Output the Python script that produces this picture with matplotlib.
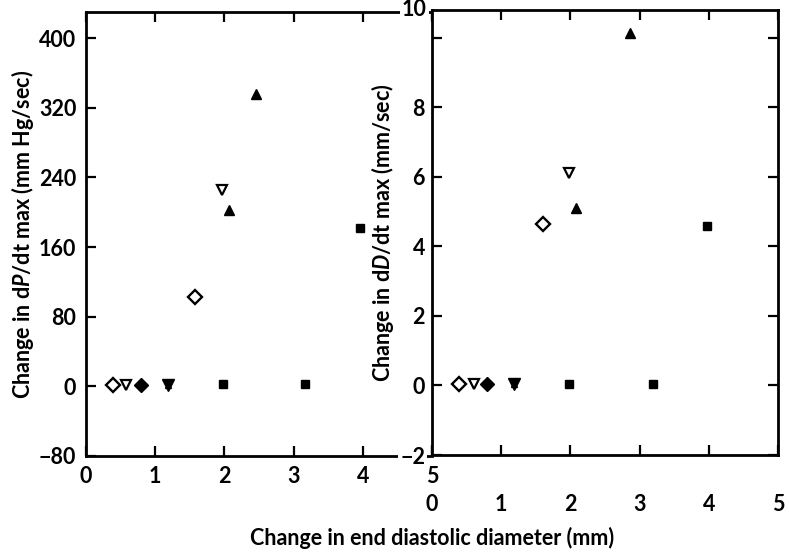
import matplotlib
matplotlib.use("Agg")
import matplotlib.pyplot as plt

plt.rcParams['font.family'] = ['Lato', 'DejaVu Sans']
plt.rcParams['font.weight'] = 'bold'
plt.rcParams['mathtext.fontset'] = 'custom'
plt.rcParams['mathtext.it'] = 'Lato:italic:bold'
plt.rcParams['mathtext.rm'] = 'Lato:bold'

# ---- data: left panel (dP/dt max, mm Hg/sec) ----
p_open_diamond_x = [0.39, 1.58]
p_open_diamond_y = [1, 103]
p_open_vtri_x = [0.58, 1.96]
p_open_vtri_y = [1, 226]
p_fill_diamond_x = [0.80]
p_fill_diamond_y = [1]
p_fill_vtri_x = [1.18]
p_fill_vtri_y = [1]
p_fill_tri_x = [2.07, 2.46]
p_fill_tri_y = [202, 336]
p_fill_square_x = [1.98, 3.17, 3.96]
p_fill_square_y = [3, 3, 182]

# ---- data: right panel (dD/dt max, mm/sec) ----
d_open_diamond_x = [0.39, 1.60]
d_open_diamond_y = [0.05, 4.64]
d_open_vtri_x = [0.60, 1.98]
d_open_vtri_y = [0.03, 6.10]
d_fill_diamond_x = [0.80]
d_fill_diamond_y = [0.03]
d_fill_vtri_x = [1.18]
d_fill_vtri_y = [0.05]
d_fill_tri_x = [2.08, 2.86]
d_fill_tri_y = [5.10, 10.14]
d_fill_square_x = [1.98, 3.19, 3.98]
d_fill_square_y = [0.05, 0.05, 4.58]

x_ticks = [0, 1, 2, 3, 4, 5]
p_ticks = [-80, 0, 80, 160, 240, 320, 400]
d_ticks = [-2, 0, 2, 4, 6, 8, 10]
d_tick_labels = ['\u22122', '0', '2', '4', '6', '8', '']

W, H = 789, 554
fig = plt.figure(figsize=(W / 100, H / 100), dpi=100)

def fx(px):
    return px / W

def fy(py):
    return 1 - py / H

axL = fig.add_axes([fx(86), fy(456), fx(432) - fx(86), fy(12) - fy(456)])
axR = fig.add_axes([fx(432), fy(455), fx(778) - fx(432), fy(10) - fy(455)])

lw_sp = 2.0
fs = 15.5

def draw(ax, od, ov, fd, fv, ft, fsq):
    ax.plot(od[0], od[1], linestyle='none', marker='D', ms=7, mfc='white',
            mec='black', mew=1.7)
    ax.plot(ov[0], ov[1], linestyle='none', marker='v', ms=7.5, mfc='white',
            mec='black', mew=1.6)
    ax.plot(fd[0], fd[1], linestyle='none', marker='D', ms=7.5, mfc='black',
            mec='black', mew=1)
    ax.plot(fv[0], fv[1], linestyle='none', marker='v', ms=8, mfc='black',
            mec='black', mew=1)
    ax.plot(fv[0], fv[1], linestyle='none', marker='^', ms=5, mfc='black',
            mec='black', mew=1)
    ax.plot(ft[0], ft[1], linestyle='none', marker='^', ms=7.5, mfc='black',
            mec='black', mew=1)
    ax.plot(fsq[0], fsq[1], linestyle='none', marker='s', ms=5.5, mfc='black',
            mec='black', mew=1)

draw(axL,
     (p_open_diamond_x, p_open_diamond_y), (p_open_vtri_x, p_open_vtri_y),
     (p_fill_diamond_x, p_fill_diamond_y), (p_fill_vtri_x, p_fill_vtri_y),
     (p_fill_tri_x, p_fill_tri_y), (p_fill_square_x, p_fill_square_y))
draw(axR,
     (d_open_diamond_x, d_open_diamond_y), (d_open_vtri_x, d_open_vtri_y),
     (d_fill_diamond_x, d_fill_diamond_y), (d_fill_vtri_x, d_fill_vtri_y),
     (d_fill_tri_x, d_fill_tri_y), (d_fill_square_x, d_fill_square_y))

# left axes
axL.set_xlim(0, 5)
axL.set_ylim(-80, 430)
axL.set_xticks(x_ticks)
axL.set_yticks(p_ticks)
axL.set_yticklabels([('\u2212' + str(-t)) if t < 0 else str(t) for t in p_ticks])
axL.spines['right'].set_visible(False)
for s in ['left', 'top', 'bottom']:
    axL.spines[s].set_linewidth(lw_sp)
axL.tick_params(axis='both', direction='in', length=7, width=1.6,
                labelsize=fs, top=True, right=False)
axL.tick_params(axis='x', pad=7)
axL.tick_params(axis='y', pad=7)
axL.set_ylabel('Change in d$\\it{P}$/dt max (mm Hg/sec)', fontsize=fs,
               fontweight='bold', labelpad=2)

# right axes
axR.set_xlim(0, 5)
axR.set_ylim(-2, 10.8)
axR.set_xticks(x_ticks)
axR.set_yticks(d_ticks)
axR.set_yticklabels(d_tick_labels)
for s in ['left', 'right', 'top', 'bottom']:
    axR.spines[s].set_linewidth(lw_sp)
axR.tick_params(axis='both', direction='in', length=7, width=1.6,
                labelsize=fs, top=True, right=True)
axR.tick_params(axis='x', pad=28)
axR.tick_params(axis='y', pad=5)
for t in axR.get_yticklabels():
    t.set_bbox(dict(facecolor='white', edgecolor='none', pad=1.5))
axR.text(-0.015, 1.0, '10', transform=axR.transAxes, ha='right', va='center',
         fontsize=fs, fontweight='bold',
         bbox=dict(facecolor='white', edgecolor='none', pad=1.5))
axR.set_ylabel('Change in d$\\it{D}$/dt max (mm/sec)', fontsize=fs,
               fontweight='bold', labelpad=3)

fig.text(fx(432), fy(538), 'Change in end diastolic diameter (mm)',
         ha='center', va='center', fontsize=fs, fontweight='bold')

fig.savefig('out.png', dpi=100)
